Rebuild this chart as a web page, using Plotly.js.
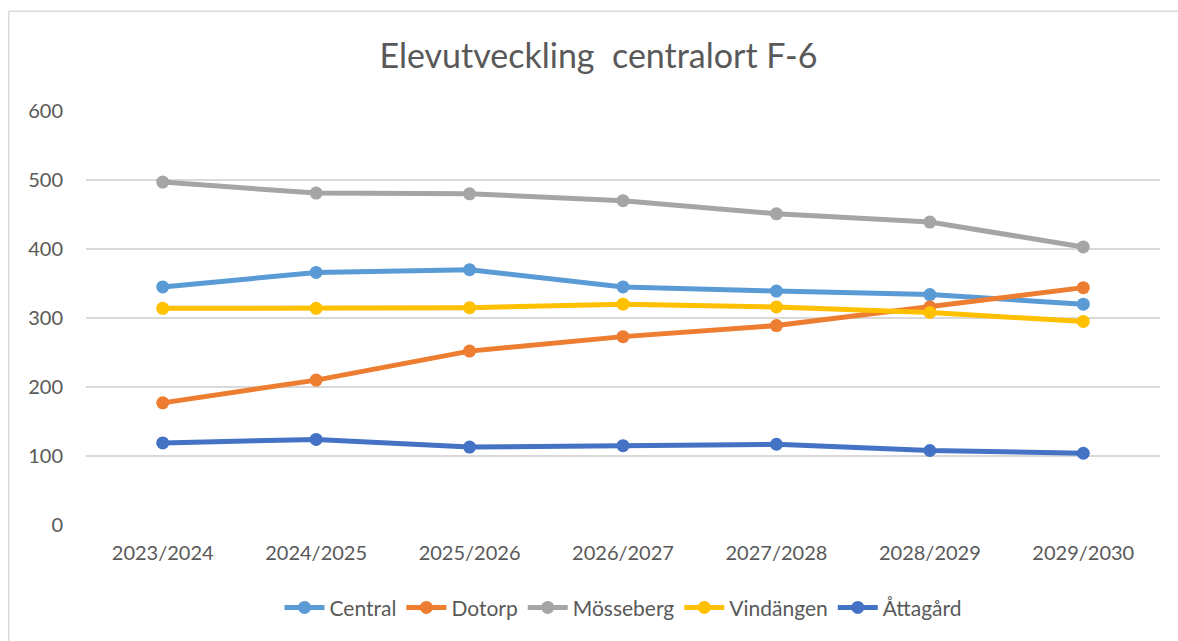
<!DOCTYPE html>
<html>
<head>
<meta charset="utf-8">
<script src="https://cdn.plot.ly/plotly-3.0.1.min.js"></script>
<style>html,body{margin:0;padding:0;background:#fff;}#chart{width:1178px;height:641px;}</style>
</head>
<body>
<div id="chart"></div>
<script>
const categories = ["2023/2024","2024/2025","2025/2026","2026/2027","2027/2028","2028/2029","2029/2030"];
const central   = [345, 366, 370, 345, 339, 334, 320];
const dotorp    = [177, 210, 252, 273, 289, 316, 344];
const mosseberg = [497, 481, 480, 470, 451, 439, 403];
const vindangen = [314, 314, 315, 320, 316, 308, 295];
const attagard  = [119, 124, 113, 115, 117, 108, 104];
const seriesNames = ["Central","Dotorp","Mösseberg","Vindängen","Åttagård"];
const yTicks = [0,100,200,300,400,500,600];

const colors = ["#5B9BD5","#ED7D31","#A5A5A5","#FFC000","#4472C4"];
const data = [central, dotorp, mosseberg, vindangen, attagard];
const traces = data.map((vals,i)=>({
  type:"scatter", mode:"lines+markers", name:seriesNames[i],
  x:categories, y:vals,
  line:{color:colors[i], width:5},
  marker:{color:colors[i], size:13}
}));
const font = "Lato, 'Open Sans', sans-serif";
const layout = {
  width:1178, height:641,
  margin:{l:86, r:17.5, t:110.7, b:116.3},
  paper_bgcolor:"#fff", plot_bgcolor:"#fff",
  title:{text:"Elevutveckling&nbsp;&nbsp;centralort F-6", x:0.508, xanchor:"center", y:0.912, yanchor:"middle",
         font:{family:font, size:34, color:"#595959"}},
  xaxis:{type:"category", range:[-0.5,6.5], showgrid:false, zeroline:false, showline:false,
         ticks:"", tickfont:{family:font, size:20, color:"#595959"}, ticklabelstandoff:14},
  yaxis:{range:[0,600], tickvals:yTicks, showgrid:true, gridcolor:"#D9D9D9", gridwidth:1.3,
         zeroline:false, showline:false, ticks:"", tickfont:{family:font, size:20, color:"#595959"},
         ticklabelstandoff:22},
  showlegend:true,
  legend:{orientation:"h", x:0.5, xanchor:"center", y:-0.2, yanchor:"middle",
          font:{family:font, size:21, color:"#595959"}, itemwidth:40, tracegroupgap:0},
  shapes:[
    {type:"line", xref:"paper", yref:"paper", x0:-0.0719, x1:1.02, y0:1.241, y1:1.241, line:{color:"#D9D9D9", width:1.5}},
    {type:"line", xref:"paper", yref:"paper", x0:-0.0719, x1:-0.0719, y0:1.241, y1:-0.3, line:{color:"#D9D9D9", width:1.5}}
  ]
};
Plotly.newPlot("chart", traces, layout, {displayModeBar:false, staticPlot:true});
</script>
</body>
</html>
